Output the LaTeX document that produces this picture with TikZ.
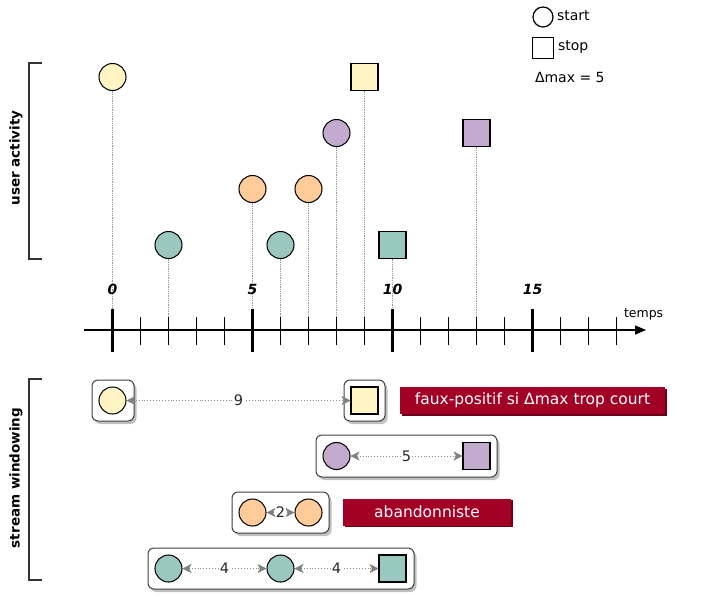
\documentclass[tikz,border=0pt]{standalone}
\usepackage{fontspec}
\setmainfont{DejaVu Sans}
\usetikzlibrary{arrows.meta,shadows}
\definecolor{cy}{HTML}{FFF4C4}
\definecolor{co}{HTML}{FFCC99}
\definecolor{cp}{HTML}{C3ABD0}
\definecolor{ct}{HTML}{9AC7BF}
\definecolor{cred}{HTML}{A20025}
\definecolor{cdred}{HTML}{6F0019}
\begin{document}
\begin{tikzpicture}[x=1pt,y=-1pt,
  every node/.style={inner sep=0pt, outer sep=0pt},
  ev/.style={circle, draw=black, line width=1.05pt, minimum size=27pt},
  evs/.style={rectangle, draw=black, line width=1.05pt, minimum size=27pt},
  drop/.style={draw=black!40, densely dotted, line width=0.8pt},
  win/.style={draw=black!75, line width=1pt, rounded corners=6pt, fill=white,
    drop shadow={shadow xshift=2.5pt, shadow yshift=-3pt, fill=black!45, opacity=0.55}},
  gtip/.tip={Stealth[length=9pt, width=9pt, inset=2.5pt, fill=black!50, color=black!50, line width=0.4pt]},
  dist/.style={draw=black!45, dotted, line width=0.9pt, gtip-gtip, shorten <=0.5pt, shorten >=0.5pt},
  dlab/.style={fill=white, inner xsep=1pt, font=\fontsize{14.5}{14.5}\selectfont, text=black!85},
  redlab/.style={fill=cred, text=white, font=\fontsize{15.5}{15.5}\selectfont,
    drop shadow={shadow xshift=1.5pt, shadow yshift=-1.5pt, fill=cdred, opacity=1}},
  axlab/.style={font=\fontsize{14}{14}\selectfont\bfseries\itshape},
  brk/.style={draw=black!80, line width=1.2pt},
  side/.style={rotate=90, font=\fontsize{13.5}{13.5}\selectfont\bfseries},
  lg/.style={font=\fontsize{14}{14}\selectfont, anchor=west}
]
\useasboundingbox (0,0) rectangle (703,595);

% legend
\node[circle, draw=black, line width=1.2pt, minimum size=20pt] (lgc) at (543,17) {};
\node[lg] (lgct) at (557,16) {start};
\node[rectangle, draw=black, line width=1.2pt, minimum size=21pt] (lgs) at (543,48) {};
\node[lg] (lgst) at (558,47) {stop};
\node[lg] (lgd) at (535,77) {Δmax = 5};

% side brackets
\draw[brk] (42,63) -- (29,63) -- (29,259) -- (42,259);
\node[side] (ua) at (16,158) {user activity};
\draw[brk] (42,379) -- (29,379) -- (29,580) -- (42,580);
\node[side] (sw) at (16,478) {stream windowing};

% axis ticks coordinates
\foreach \i in {0,...,18} {
  \coordinate (t\i) at ({112.5+28*\i},330);
}
% events
\node[ev, fill=cy] (a0) at (112.5,77) {};
\node[evs, fill=cy] (a9) at (364.5,77) {};
\node[ev, fill=cp] (b8) at (336.5,133) {};
\node[evs, fill=cp] (b13) at (476.5,133) {};
\node[ev, fill=co] (c5) at (252.5,189) {};
\node[ev, fill=co] (c7) at (308.5,189) {};
\node[ev, fill=ct] (d2) at (168.5,245) {};
\node[ev, fill=ct] (d6) at (280.5,245) {};
\node[evs, fill=ct] (d10) at (392.5,245) {};
\foreach \n/\t in {a0/0,a9/9,b8/8,b13/13,c5/5,c7/7,d2/2,d6/6,d10/10} {
  \draw[drop] (\n.south) -- (t\t);
}

% axis labels
\node[axlab] (l0) at (112.5,289) {0};
\node[axlab] (l5) at (252.5,289) {5};
\node[axlab] (l10) at (392.5,289) {10};
\node[axlab] (l15) at (532.5,289) {15};

% axis
\coordinate (ax0) at (84,330);
\coordinate (ax1) at (646,330);
\draw[line width=1.3pt, -{Triangle[length=11pt,width=9pt]}] (ax0) -- (ax1);
\foreach \i in {0,...,18} {
  \draw[line width=1pt] ([yshift=-15pt]t\i) -- ([yshift=13pt]t\i);
}
\foreach \i in {0,5,10,15} {
  \draw[line width=3pt] ([yshift=-22pt]t\i) -- ([yshift=21pt]t\i);
}
\node[font=\fontsize{12.5}{12.5}\selectfont, anchor=south west] (tp) at (624,320) {temps};

% stream windows
\node[win, minimum width=42pt, minimum height=41pt] (w1a) at (113,400.5) {};
\node[win, minimum width=41pt, minimum height=41pt] (w1b) at (364.5,400.5) {};
\node[win, minimum width=181pt, minimum height=42pt] (w2) at (406.5,456) {};
\node[win, minimum width=97pt, minimum height=41pt] (w3) at (280.5,512.5) {};
\node[win, minimum width=266pt, minimum height=41pt] (w4) at (281,568.5) {};

\node[ev, fill=cy] (s1a) at (112.5,400.5) {};
\node[evs, fill=cy] (s1b) at (364.5,400.5) {};
\node[ev, fill=cp] (s2a) at (336.5,456) {};
\node[evs, fill=cp] (s2b) at (476.5,456) {};
\node[ev, fill=co] (s3a) at (252.5,512.5) {};
\node[ev, fill=co] (s3b) at (308.5,512.5) {};
\node[ev, fill=ct] (s4a) at (168.5,568.5) {};
\node[ev, fill=ct] (s4b) at (280.5,568.5) {};
\node[evs, fill=ct] (s4c) at (392.5,568.5) {};

\draw[dist] (s1a) -- node[dlab] (n9) {9} (s1b);
\draw[dist] (s2a) -- node[dlab] (n5) {5} (s2b);
\draw[dist] (s3a) -- node[dlab, inner xsep=0pt] (n2) {2} (s3b);
\draw[dist] (s4a) -- node[dlab] (n4a) {4} (s4b);
\draw[dist] (s4b) -- node[dlab] (n4b) {4} (s4c);

% red labels
\node[redlab, minimum width=265pt, minimum height=27pt] (fp) at (532.5,400.5) {faux-positif si Δmax trop court};
\node[redlab, minimum width=168pt, minimum height=27pt] (ab) at (427,512) {abandonniste};
\end{tikzpicture}
\end{document}
